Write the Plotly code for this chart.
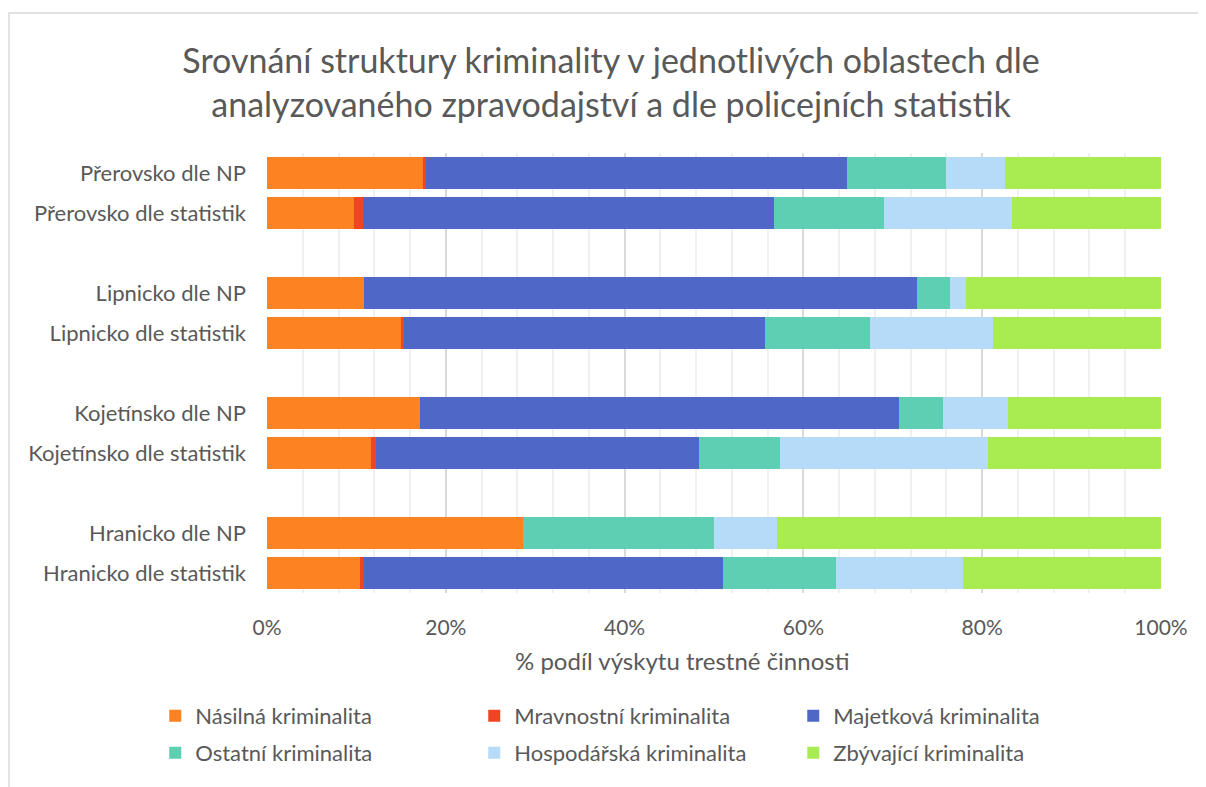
import plotly.graph_objects as go

# rows top to bottom; blank strings are the gaps between regions
rows = [
    "Přerovsko dle NP", "Přerovsko dle statistik", " ",
    "Lipnicko dle NP", "Lipnicko dle statistik", "  ",
    "Kojetínsko dle NP", "Kojetínsko dle statistik", "   ",
    "Hranicko dle NP", "Hranicko dle statistik",
]
bars = [r for r in rows if r.strip()]

# % share per category, same order as `bars`
nasilna = [17.5, 9.7, 10.9, 15.0, 17.1, 11.6, 28.6, 10.4]
mravnostni = [0.3, 1.0, 0.0, 0.3, 0.0, 0.6, 0.0, 0.4]
majetkova = [47.1, 46.0, 61.8, 40.4, 53.6, 36.1, 0.0, 40.2]
ostatni = [11.0, 12.3, 3.7, 11.7, 4.9, 9.1, 21.4, 12.7]
hospodarska = [6.6, 14.3, 1.8, 13.8, 7.3, 23.3, 7.1, 14.2]
zbyvajici = [17.5, 16.7, 21.8, 18.8, 17.1, 19.3, 42.9, 22.1]

series = [
    ("Násilná kriminalita", nasilna, "#FD8222", "legend"),
    ("Mravnostní kriminalita", mravnostni, "#F04524", "legend"),
    ("Majetková kriminalita", majetkova, "#4F68C8", "legend"),
    ("Ostatní kriminalita", ostatni, "#5ECFB2", "legend2"),
    ("Hospodářská kriminalita", hospodarska, "#B5DBF9", "legend2"),
    ("Zbývající kriminalita", zbyvajici, "#A9EC52", "legend2"),
]

FONT = "Lato"
GREY = "#595959"

fig = go.Figure()
for name, vals, color, lg in series:
    fig.add_trace(go.Bar(
        y=bars, x=vals, name=name, orientation="h", legend=lg,
        marker=dict(color=color, line=dict(width=0)),
    ))

legend_style = dict(
    orientation="h", x=-0.125, xanchor="left", yanchor="middle",
    entrywidth=274, itemwidth=30, traceorder="normal",
    font=dict(size=22, color=GREY, family=FONT),
    bgcolor="rgba(0,0,0,0)",
)

fig.update_layout(
    barmode="stack",
    bargap=0.2,
    width=1206, height=787,
    margin=dict(l=259, r=53, t=145, b=202),
    paper_bgcolor="white", plot_bgcolor="white",
    font=dict(family=FONT, color=GREY, size=22),
    title=dict(
        text="Srovnání struktury kriminality v jednotlivých oblastech dle<br>"
             "analyzovaného zpravodajství a dle policejních statistik",
        x=0.5, xanchor="center", xref="container",
        y=0.918, yanchor="middle", yref="container",
        font=dict(family=FONT, size=34, color=GREY),
    ),
    legend=dict(y=-0.2795, **legend_style),
    legend2=dict(y=-0.3636, **legend_style),
    showlegend=True,
)

fig.update_xaxes(
    range=[0, 100], dtick=20, ticksuffix="%",
    showgrid=True, gridcolor="#D9D9D9", gridwidth=1.5,
    minor=dict(dtick=4, showgrid=True, gridcolor="#F0F0F0", gridwidth=1.5),
    zeroline=False, showline=False,
    ticks="", ticklabelstandoff=20,
    tickfont=dict(size=21, color=GREY),
)
fig.update_yaxes(
    categoryorder="array", categoryarray=rows, autorange="reversed",
    range=[10.5, -0.5], showgrid=False, zeroline=False, showline=False,
    ticks="", ticklabelstandoff=20,
    tickfont=dict(size=22, color=GREY),
)

# x axis title sits a little left of the plot centre, as in the original
fig.add_annotation(
    text="% podíl výskytu trestné činnosti", xref="paper", yref="paper",
    x=0.464, y=-0.1545, xanchor="center", yanchor="middle", showarrow=False,
    font=dict(size=24, color=GREY, family=FONT),
)

# outer chart frame
fig.add_shape(type="rect", xref="paper", yref="paper",
              x0=(1 - 259) / 894, x1=1.2, y0=-0.6, y1=(585 - 5) / 440,
              line=dict(color="#D9D9D9", width=1.5), fillcolor="rgba(0,0,0,0)",
              layer="below")

fig.write_html("out.html")
